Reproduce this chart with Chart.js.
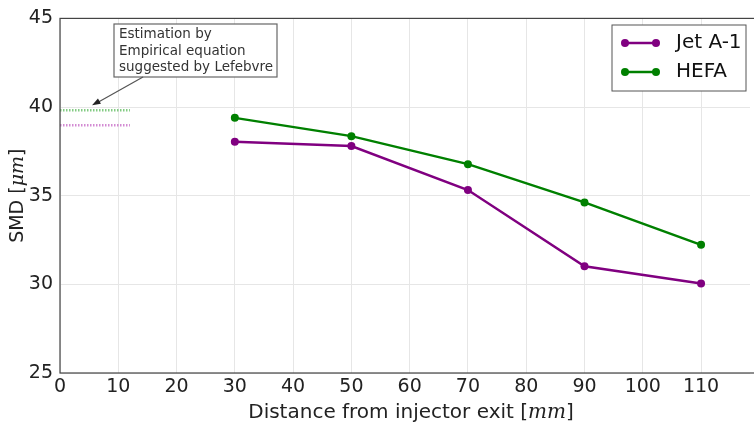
<!DOCTYPE html>
<html>
<head>
<meta charset="utf-8">
<script src="https://cdn.jsdelivr.net/npm/chart.js@4.4.0/dist/chart.umd.min.js"></script>
<style>
  html, body { margin: 0; padding: 0; background: #fff; }
  #wrap { width: 754px; height: 429px; position: relative; }
</style>
</head>
<body>
<div id="wrap"><canvas id="smdChart"></canvas></div>
<script>
// ==============================
// DATA
// ==============================
const distances = [30, 50, 70, 90, 110];
const jetA1 = [38.04, 37.80, 35.32, 31.02, 30.05];
const hefa = [39.39, 38.36, 36.78, 34.62, 32.23];

// Lefebvre empirical estimates, drawn as short dotted lines near the origin
const lefebvreX = [0, 12];
const lefebvreJetA1 = [38.98, 38.98];
const lefebvreHefa = [39.82, 39.82];

const xTicks = [0, 10, 20, 30, 40, 50, 60, 70, 80, 90, 100, 110];
const yTicks = [25, 30, 35, 40, 45];
const annotationLines = ['Estimation by', 'Empirical equation', 'suggested by Lefebvre'];
const legendLabels = ['Jet A-1', 'HEFA'];

// ==============================
// STYLE
// ==============================
const purple = '#800080';
const green = '#008000';
const font = '"DejaVu Sans", sans-serif';
const xMin = 0, xMax = 118.4;
const yMin = 25, yMax = 45;

function toPoints(xs, ys) {
    return xs.map((x, i) => ({ x: x, y: ys[i] }));
}

// frame, axis titles, legend and the annotation box
const decorations = {
    id: 'decorations',
    afterDraw(chart) {
        const ctx = chart.ctx;
        const area = chart.chartArea;
        const xs = chart.scales.x, ys = chart.scales.y;
        ctx.save();

        // frame (right side runs off the canvas)
        ctx.strokeStyle = '#444';
        ctx.lineWidth = 1.2;
        ctx.strokeRect(area.left, area.top, area.right - area.left + 20, area.bottom - area.top);

        // y title: SMD [μm]
        ctx.fillStyle = '#222';
        ctx.save();
        ctx.translate(18, (area.top + area.bottom) / 2);
        ctx.rotate(-Math.PI / 2);
        drawMixed(ctx, [['SMD [', '19px ' + font], ['μm', 'italic 19px "DejaVu Serif", serif'], [']', '19px ' + font]], 0, 0);
        ctx.restore();

        // x title: Distance from injector exit [mm]
        drawMixed(ctx, [['Distance from injector exit [', '20px ' + font], ['mm', 'italic 20px "DejaVu Serif", serif'], [']', '20px ' + font]],
            411, 413);

        // legend
        const lx = 612, ly = 25, lw = 134, lh = 66;
        ctx.fillStyle = '#fff';
        ctx.fillRect(lx, ly, lw, lh);
        ctx.strokeStyle = '#555';
        ctx.lineWidth = 1;
        ctx.strokeRect(lx, ly, lw, lh);
        [purple, green].forEach((c, i) => {
            const y = 43 + i * 29;
            ctx.strokeStyle = c;
            ctx.fillStyle = c;
            ctx.lineWidth = 2.5;
            ctx.beginPath();
            ctx.moveTo(625, y);
            ctx.lineTo(656, y);
            ctx.stroke();
            [625, 656].forEach(px => {
                ctx.beginPath();
                ctx.arc(px, y, 4, 0, Math.PI * 2);
                ctx.fill();
            });
            ctx.fillStyle = '#111';
            ctx.font = '20px ' + font;
            ctx.textAlign = 'left';
            ctx.textBaseline = 'middle';
            ctx.fillText(legendLabels[i], 676, y);
        });

        // annotation box and arrow
        const bx = 114, by = 24, bw = 163, bh = 53;
        ctx.fillStyle = '#fff';
        ctx.fillRect(bx, by, bw, bh);
        ctx.strokeStyle = '#666';
        ctx.lineWidth = 1.2;
        ctx.strokeRect(bx, by, bw, bh);
        ctx.fillStyle = '#333';
        ctx.font = '13.5px ' + font;
        ctx.textAlign = 'left';
        ctx.textBaseline = 'alphabetic';
        annotationLines.forEach((t, i) => ctx.fillText(t, bx + 5, by + 14 + i * 16.5));

        const tipX = xs.getPixelForValue(5.5), tipY = ys.getPixelForValue(40.1);
        const tailX = 143, tailY = by + bh;
        ctx.strokeStyle = '#555';
        ctx.lineWidth = 1.2;
        ctx.beginPath();
        ctx.moveTo(tailX, tailY);
        ctx.lineTo(tipX + 6, tipY - 3);
        ctx.stroke();
        const ang = Math.atan2(tipY - tailY, tipX - tailX);
        ctx.fillStyle = '#222';
        ctx.beginPath();
        ctx.moveTo(tipX, tipY);
        ctx.lineTo(tipX - 9 * Math.cos(ang - 0.35), tipY - 9 * Math.sin(ang - 0.35));
        ctx.lineTo(tipX - 9 * Math.cos(ang + 0.35), tipY - 9 * Math.sin(ang + 0.35));
        ctx.closePath();
        ctx.fill();

        ctx.restore();
    }
};

// draws runs of text with different fonts, centred on (cx, cy)
function drawMixed(ctx, parts, cx, cy) {
    let total = 0;
    parts.forEach(p => { ctx.font = p[1]; total += ctx.measureText(p[0]).width; });
    let x = cx - total / 2;
    ctx.textAlign = 'left';
    ctx.textBaseline = 'middle';
    parts.forEach(p => {
        ctx.font = p[1];
        ctx.fillText(p[0], x, cy);
        x += ctx.measureText(p[0]).width;
    });
}

// ==============================
// CHART
// ==============================
const ctx = document.getElementById('smdChart').getContext('2d');
new Chart(ctx, {
    type: 'line',
    data: {
        datasets: [
            {
                label: 'Lefebvre Jet A-1',
                data: toPoints(lefebvreX, lefebvreJetA1),
                borderColor: 'rgba(200, 110, 200, 0.8)',
                borderWidth: 2.5,
                borderDash: [1.5, 1.5],
                pointRadius: 0
            },
            {
                label: 'Lefebvre HEFA',
                data: toPoints(lefebvreX, lefebvreHefa),
                borderColor: 'rgba(100, 190, 100, 0.8)',
                borderWidth: 2.5,
                borderDash: [1.5, 1.5],
                pointRadius: 0
            },
            {
                label: legendLabels[0],
                data: toPoints(distances, jetA1),
                borderColor: purple,
                backgroundColor: purple,
                borderWidth: 2.5,
                pointRadius: 4,
                pointBorderWidth: 0
            },
            {
                label: legendLabels[1],
                data: toPoints(distances, hefa),
                borderColor: green,
                backgroundColor: green,
                borderWidth: 2.5,
                pointRadius: 4,
                pointBorderWidth: 0
            }
        ]
    },
    options: {
        responsive: true,
        maintainAspectRatio: false,
        animation: false,
        layout: { padding: { top: 17, right: 0, left: 0, bottom: 0 } },
        plugins: {
            legend: { display: false },
            tooltip: { enabled: false }
        },
        scales: {
            x: {
                type: 'linear',
                min: xMin,
                max: xMax,
                afterFit: s => { s.height = 56; },
                afterBuildTicks: s => { s.ticks = xTicks.map(v => ({ value: v })); },
                grid: { color: '#e6e6e6', lineWidth: 1, drawTicks: false },
                border: { display: false },
                ticks: {
                    color: '#222',
                    font: { family: font, size: 19 },
                    padding: 3,
                    maxRotation: 0,
                    autoSkip: false
                }
            },
            y: {
                type: 'linear',
                min: yMin,
                max: yMax,
                afterFit: s => { s.width = 60; },
                afterBuildTicks: s => { s.ticks = yTicks.map(v => ({ value: v })); },
                grid: { color: '#e6e6e6', lineWidth: 1, drawTicks: false },
                border: { display: false },
                ticks: {
                    color: '#222',
                    font: { family: font, size: 19 },
                    padding: 7
                }
            }
        }
    },
    plugins: [decorations]
});
</script>
</body>
</html>
